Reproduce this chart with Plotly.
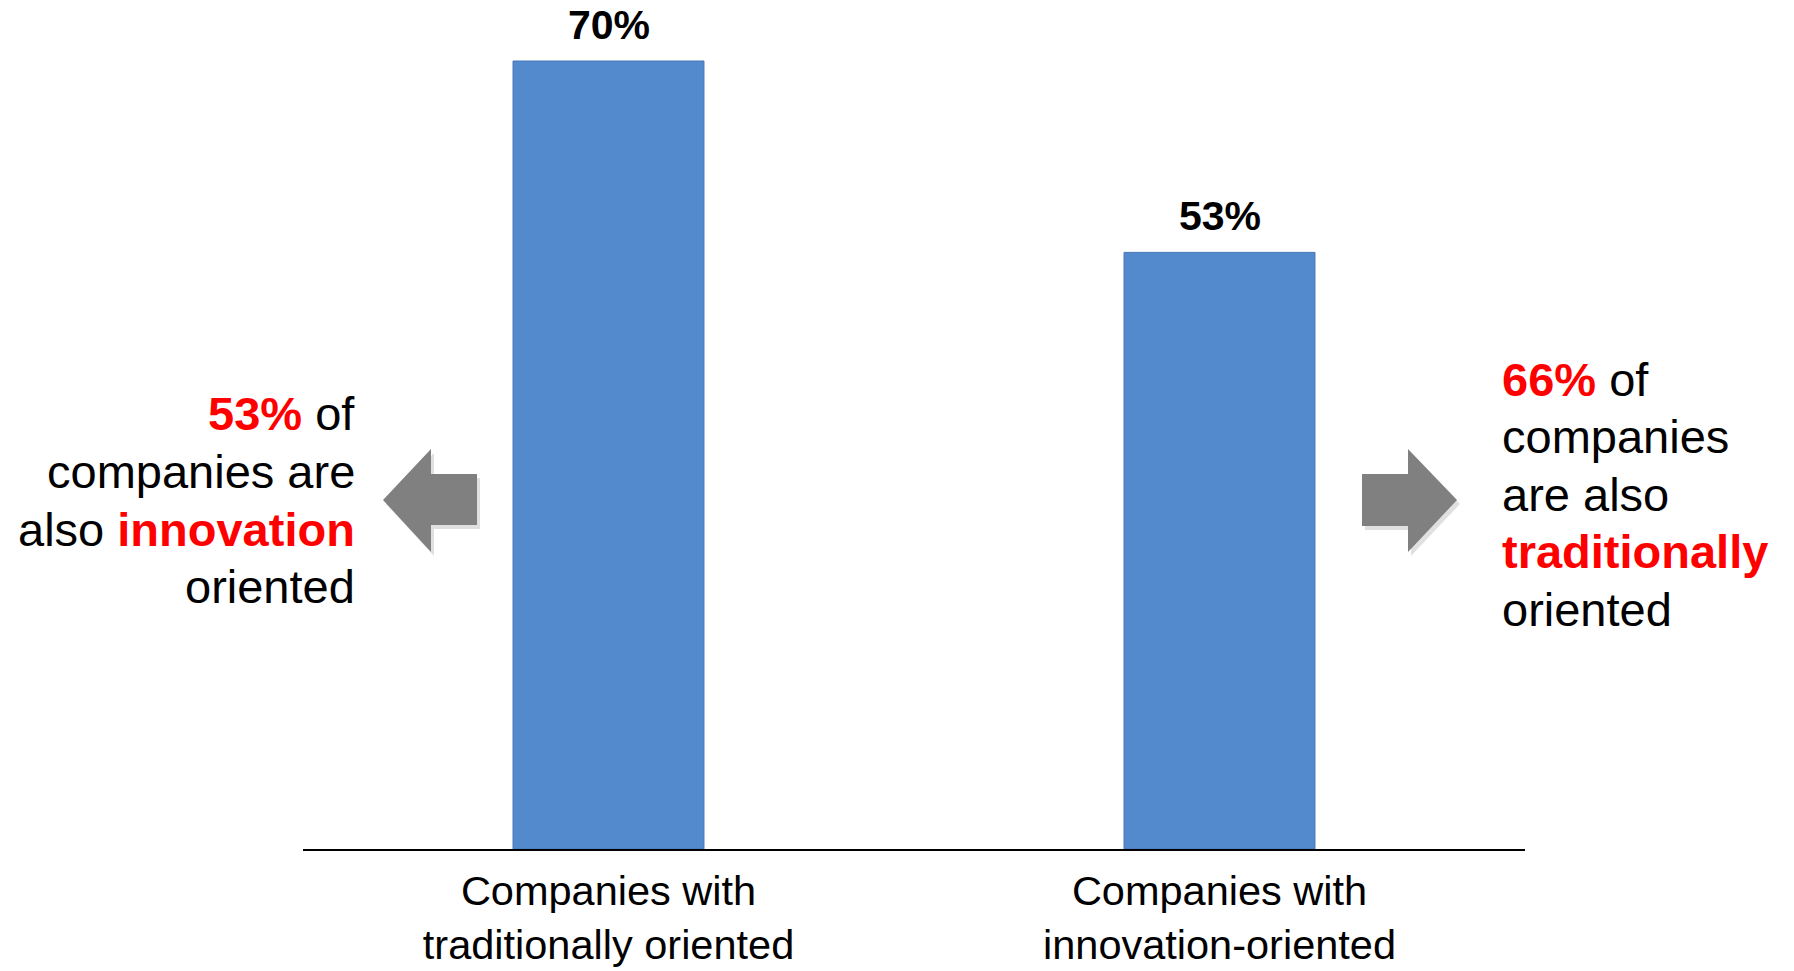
import plotly.graph_objects as go

categories = ["Companies with<br>traditionally oriented", "Companies with<br>innovation-oriented"]
values = [70, 53]
value_labels = ["70%", "53%"]

left_lines = ["<b><span style='color:#FF0000'>53%</span></b> of",
              "companies are",
              "also <b><span style='color:#FF0000'>innovation</span></b>",
              "oriented"]
right_lines = ["<b><span style='color:#FF0000'>66%</span></b> of",
               "companies",
               "are also",
               "<b><span style='color:#FF0000'>traditionally</span></b>",
               "oriented"]

W, H = 1794, 971
ML, MR, MT, MB = 303, 269, 10, 122
PW, PH = W - ML - MR, H - MT - MB


def px(x):
    return (x - ML) / PW


def py(y):
    return (H - MB - y) / PH


FONT = "Liberation Sans, Arial, sans-serif"

fig = go.Figure()
fig.add_trace(go.Bar(
    x=categories, y=values, width=0.3125,
    marker=dict(color="#538ACE", line=dict(color="#4677B8", width=1)),
    hoverinfo="skip", showlegend=False,
))

annotations = []
for c, v, t in zip(categories, values, value_labels):
    annotations.append(dict(x=c, y=v, xref="x", yref="y", text=f"<b>{t}</b>",
                            showarrow=False, yanchor="middle", yshift=36,
                            font=dict(family=FONT, size=41, color="#000000")))

for i, line in enumerate(left_lines):
    annotations.append(dict(x=px(357), y=py(414 + i * 57.5), xref="paper", yref="paper",
                            text=line, showarrow=False, xanchor="right", yanchor="middle",
                            font=dict(family=FONT, size=47, color="#000000")))
for i, line in enumerate(right_lines):
    annotations.append(dict(x=px(1500), y=py(379 + i * 57.5), xref="paper", yref="paper",
                            text=line, showarrow=False, xanchor="left", yanchor="middle",
                            font=dict(family=FONT, size=47, color="#000000")))


def path(points):
    return "M " + " L ".join(f"{px(a)},{py(b)}" for a, b in points) + " Z"


left_arrow = [(383, 500), (431, 449), (431, 474), (477, 474), (477, 525), (431, 525), (431, 552)]
right_arrow = [(1457, 500), (1408, 449), (1408, 474), (1362, 474), (1362, 526), (1408, 526), (1408, 552)]

shapes = []
for arr in (left_arrow, right_arrow):
    shadow = [(a + 3, b + 4) for a, b in arr]
    shapes.append(dict(type="path", xref="paper", yref="paper", path=path(shadow),
                       fillcolor="rgba(0,0,0,0.12)", line=dict(width=0), layer="below"))
    shapes.append(dict(type="path", xref="paper", yref="paper", path=path(arr),
                       fillcolor="#808080", line=dict(width=0)))

fig.update_layout(
    width=W, height=H,
    margin=dict(l=ML, r=MR, t=MT, b=MB),
    paper_bgcolor="#FFFFFF", plot_bgcolor="#FFFFFF",
    annotations=annotations, shapes=shapes,
    xaxis=dict(showline=True, linecolor="#000000", linewidth=2, showgrid=False,
               ticks="", ticklabelstandoff=4, automargin=False,
               tickfont=dict(family=FONT, size=41.5, color="#000000"),
               range=[-0.5, 1.5], fixedrange=True),
    yaxis=dict(range=[0, PH / 11.257], visible=False, showgrid=False, fixedrange=True,
               automargin=False),
    font=dict(family=FONT),
)

fig.write_html("out.html")
